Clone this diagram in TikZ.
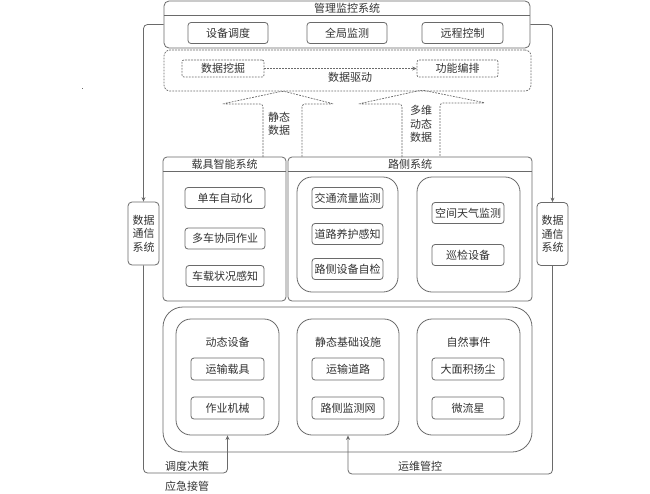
\documentclass[tikz,border=0pt]{standalone}
\usepackage{fontspec}
\newfontfamily\cjk{Noto Sans CJK SC}
\usetikzlibrary{arrows.meta}
\definecolor{ln}{HTML}{6A6A6A}
\definecolor{tx}{HTML}{333333}
\tikzset{
  base/.style={draw=ln, line width=0.8pt, text=tx, inner sep=0pt, align=center},
  ibox/.style={base, rounded corners=3pt, minimum height=21pt},
  grp/.style={base, rounded corners=15pt},
  sysbox/.style={base, rounded corners=5pt},
  dbox/.style={draw=ln, line width=0.7pt, dash pattern=on 1.8pt off 1.2pt, text=tx, inner sep=0pt, rounded corners=2pt, minimum height=17pt},
  fat/.style={draw=ln, line width=0.7pt, dash pattern=on 1.8pt off 1.2pt, rounded corners=3pt},
  conn/.style={draw=ln, line width=0.8pt, rounded corners=4pt, -{Stealth[length=4.5pt,width=4pt]}},
  lbl/.style={text=tx, inner sep=0pt, align=center}
}
\begin{document}
\begin{tikzpicture}[x=1pt,y=-1pt, font=\cjk\fontsize{11}{13.5}\selectfont]
\useasboundingbox (0,0) rectangle (650,493);
\fill[white] (0,0) rectangle (650,493);

% top management system
\node[sysbox, minimum width=366pt, minimum height=47pt] (top) at (347,24.5) {};
\draw[draw=ln, line width=0.8pt] (164,15) -- (530,15);
\node[lbl] (toptitle) at (347,8) {管理监控系统};
\node[ibox, minimum width=80pt] (sb) at (228,33) {设备调度};
\node[ibox, minimum width=80pt] (qj) at (347,33) {全局监测};
\node[ibox, minimum width=81pt] (yc) at (462.5,33) {远程控制};

% data-driven dashed box
\node[dbox, rounded corners=6pt, minimum width=367pt, minimum height=41pt] (dd) at (347.5,70.5) {};
\node[dbox, minimum width=82pt] (wj) at (223,68.5) {数据挖掘};
\node[dbox, minimum width=81pt] (bp) at (457.5,68.5) {功能编排};
\draw[draw=ln, line width=0.7pt, dash pattern=on 1.8pt off 1.2pt, -{Stealth[length=4.5pt,width=4pt]}] (wj) -- (bp);
\node[lbl] (qd) at (350,77) {数据驱动};

% fat dashed arrows
\draw[fat] (263,157) -- (263,104) -- (222,104) -- (283,91) -- (334,104) -- (302,104) -- (302,157);
\draw[fat] (402,157) -- (402,104) -- (358,104) -- (422,90) -- (486,103) -- (440,103) -- (440,157);
\node[lbl] (jt) at (279,124) {静态\\数据};
\node[lbl] (dt) at (421,124) {多维\\动态\\数据};

% vehicle system
\node[sysbox, rounded corners=4pt, minimum width=123pt, minimum height=144pt] (veh) at (224.5,229) {};
\draw[draw=ln, line width=0.8pt] (163,171) -- (286,171);
\node[lbl] (vt) at (224.5,164) {载具智能系统};
\node[ibox, minimum width=80pt] (v1) at (225,198) {单车自动化};
\node[ibox, minimum width=80pt] (v2) at (225,238.5) {多车协同作业};
\node[ibox, minimum width=78pt] (v3) at (225,276) {车载状况感知};

% roadside system
\node[sysbox, rounded corners=4pt, minimum width=244pt, minimum height=144pt] (road) at (410,229) {};
\draw[draw=ln, line width=0.8pt] (288,171) -- (532,171);
\node[lbl] (rt) at (410,164) {路侧系统};
\node[grp, minimum width=101pt, minimum height=115pt] (rg1) at (347.5,234.5) {};
\node[ibox, minimum width=71pt] (r1) at (347.5,198) {交通流量监测};
\node[ibox, minimum width=71pt] (r2) at (347.5,234) {道路养护感知};
\node[ibox, minimum width=71pt] (r3) at (347.5,269) {路侧设备自检};
\node[grp, minimum width=103pt, minimum height=115pt] (rg2) at (468.5,234.5) {};
\node[ibox, minimum width=72pt] (r4) at (468,213) {空间天气监测};
\node[ibox, minimum width=72pt] (r5) at (468,255) {巡检设备};

% communication boxes
\node[ibox, rounded corners=4pt, minimum width=31pt, minimum height=63pt] (lc) at (143.5,233.5) {数据\\通信\\系统};
\node[ibox, rounded corners=4pt, minimum width=31pt, minimum height=63pt] (rc) at (552.5,234) {数据\\通信\\系统};

% physical layer
\node[base, rounded corners=20pt, minimum width=369pt, minimum height=145pt] (phys) at (347.5,379.5) {};
\node[grp, minimum width=103pt, minimum height=116pt] (dyn) at (227.5,377) {};
\node[lbl] (dynt) at (227.5,342) {动态设备};
\node[ibox, minimum width=73pt, minimum height=22pt] (p1) at (227.5,369) {运输载具};
\node[ibox, minimum width=73pt, minimum height=22pt] (p2) at (227.5,408) {作业机械};
\node[grp, minimum width=102pt, minimum height=116pt] (sta) at (348,377) {};
\node[lbl] (stat) at (348,342) {静态基础设施};
\node[ibox, minimum width=72pt, minimum height=22pt] (p3) at (348,369) {运输道路};
\node[ibox, minimum width=72pt, minimum height=22pt] (p4) at (348,408) {路侧监测网};
\node[grp, minimum width=103pt, minimum height=116pt] (nat) at (468.5,377) {};
\node[lbl] (natt) at (468.5,342) {自然事件};
\node[ibox, minimum width=72pt, minimum height=22pt] (p5) at (468,369) {大面积扬尘};
\node[ibox, minimum width=72pt, minimum height=22pt] (p6) at (468,408) {微流星};

% connectors
\coordinate (lb) at (143.5,473);
\coordinate (rb) at (552.5,474);
\draw[conn] (top.west) -| (lc.north);
\draw[conn] (lc.south) -- (lb) -| (dyn.south);
\draw[conn] (top.east) -| (rc.north);
\draw[conn] (rc.south) -- (rb) -| (sta.south);
\node[lbl] (l1) at (187,466) {调度决策};
\node[lbl] (l2) at (187,486) {应急接管};
\node[lbl] (l3) at (420,466) {运维管控};

% stray dot
\fill[ln] (81.8,87.6) rectangle (83.2,89);
\end{tikzpicture}
\end{document}
